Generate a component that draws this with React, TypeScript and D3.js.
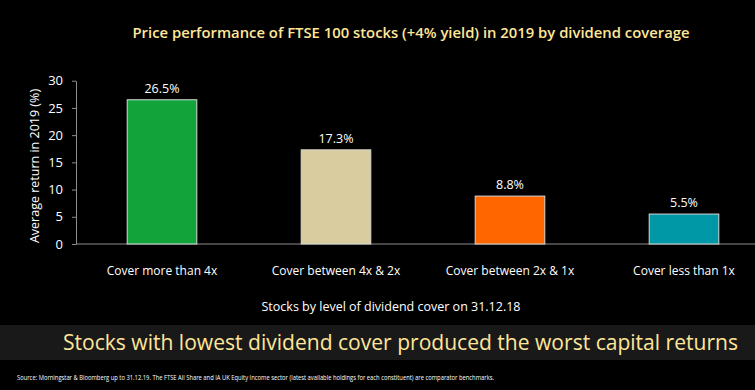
import React, { useEffect, useRef } from "react";
import * as d3 from "d3";

const categories = ["Cover more than 4x", "Cover between 4x & 2x", "Cover between 2x & 1x", "Cover less than 1x"];
const returns = [26.5, 17.3, 8.8, 5.5];
const barColors = ["#12a33b", "#d9cc9e", "#ff6600", "#0097a7"];
const yTicks = [0, 5, 10, 15, 20, 25, 30];

const W = 755;
const H = 390;
const FONT = "'Open Sans', 'DejaVu Sans', sans-serif";

export default function App() {
  const ref = useRef<SVGSVGElement>(null);

  useEffect(() => {
    const svg = d3.select(ref.current);
    svg.selectAll("*").remove();

    svg.append("rect").attr("width", W).attr("height", H).attr("fill", "#000");

    const x = d3.scaleBand().domain(categories).range([75, 771]).paddingInner(0.6).paddingOuter(0.3);
    const y = d3.scaleLinear().domain([0, 30]).range([244, 80.7]);

    // title
    svg.append("text")
      .attr("x", 411).attr("y", 38)
      .attr("text-anchor", "middle")
      .attr("fill", "#ffe699")
      .attr("font-family", FONT)
      .attr("font-weight", 600)
      .attr("font-size", 15)
      .attr("textLength", 557)
      .attr("lengthAdjust", "spacingAndGlyphs")
      .text("Price performance of FTSE 100 stocks (+4% yield) in 2019 by dividend coverage");

    // y axis
    const yAxis = svg.append("g").attr("transform", "translate(76,0)")
      .call(d3.axisLeft(y).tickValues(yTicks).tickSize(4).tickSizeOuter(0).tickPadding(9));
    yAxis.select(".domain").attr("stroke", "#8c8c8c");
    yAxis.selectAll(".tick line").attr("stroke", "#8c8c8c");
    yAxis.selectAll(".tick text")
      .attr("fill", "#fff").attr("font-size", 13).attr("font-family", FONT);

    // x axis baseline
    svg.append("line")
      .attr("x1", 76).attr("x2", W).attr("y1", y(0)).attr("y2", y(0))
      .attr("stroke", "#8c8c8c").attr("stroke-width", 1);

    // bars
    svg.selectAll("rect.bar")
      .data(returns)
      .join("rect")
      .attr("class", "bar")
      .attr("x", (d, i) => x(categories[i]))
      .attr("y", (d) => y(d))
      .attr("width", x.bandwidth())
      .attr("height", (d) => y(0) - y(d))
      .attr("fill", (d, i) => barColors[i])
      .attr("stroke", "#d9d9d9")
      .attr("stroke-width", 1);

    // value labels
    svg.selectAll("text.val")
      .data(returns)
      .join("text")
      .attr("class", "val")
      .attr("x", (d, i) => x(categories[i]) + x.bandwidth() / 2)
      .attr("y", (d) => y(d) - 7)
      .attr("text-anchor", "middle")
      .attr("fill", "#fff")
      .attr("font-family", FONT)
      .attr("font-size", 12.5)
      .text((d) => d.toFixed(1) + "%");

    // category labels
    svg.selectAll("text.cat")
      .data(categories)
      .join("text")
      .attr("class", "cat")
      .attr("x", (d) => x(d) + x.bandwidth() / 2)
      .attr("y", 275)
      .attr("text-anchor", "middle")
      .attr("fill", "#fff")
      .attr("font-family", FONT)
      .attr("font-size", 12)
      .text((d) => d);

    // axis titles
    svg.append("text")
      .attr("x", 391).attr("y", 311)
      .attr("text-anchor", "middle")
      .attr("fill", "#fff")
      .attr("font-family", FONT)
      .attr("font-size", 12.5)
      .text("Stocks by level of dividend cover on 31.12.18");

    svg.append("text")
      .attr("transform", "translate(39,166) rotate(-90)")
      .attr("text-anchor", "middle")
      .attr("fill", "#fff")
      .attr("font-family", FONT)
      .attr("font-size", 12.5)
      .text("Average return in 2019 (%)");

    // banner
    svg.append("rect")
      .attr("x", 0).attr("y", 325).attr("width", W).attr("height", 35)
      .attr("fill", "#191919");
    svg.append("text")
      .attr("x", 63).attr("y", 350)
      .attr("fill", "#ffe699")
      .attr("font-family", FONT)
      .attr("font-size", 21)
      .attr("textLength", 675)
      .attr("lengthAdjust", "spacingAndGlyphs")
      .text("Stocks with lowest dividend cover produced the worst capital returns");

    // source
    svg.append("text")
      .attr("x", 17).attr("y", 380)
      .attr("fill", "#fff")
      .attr("font-family", FONT)
      .attr("font-size", 7)
      .attr("textLength", 477)
      .attr("lengthAdjust", "spacingAndGlyphs")
      .text("Source: Morningstar & Bloomberg up to 31.12.19. The FTSE All Share and IA UK Equity Income sector (latest available holdings for each constituent) are comparator benchmarks.");
  }, []);

  return (
    <svg ref={ref} width={W} height={H} style={{ display: "block", position: "absolute", left: 0, top: 0 }} />
  );
}
